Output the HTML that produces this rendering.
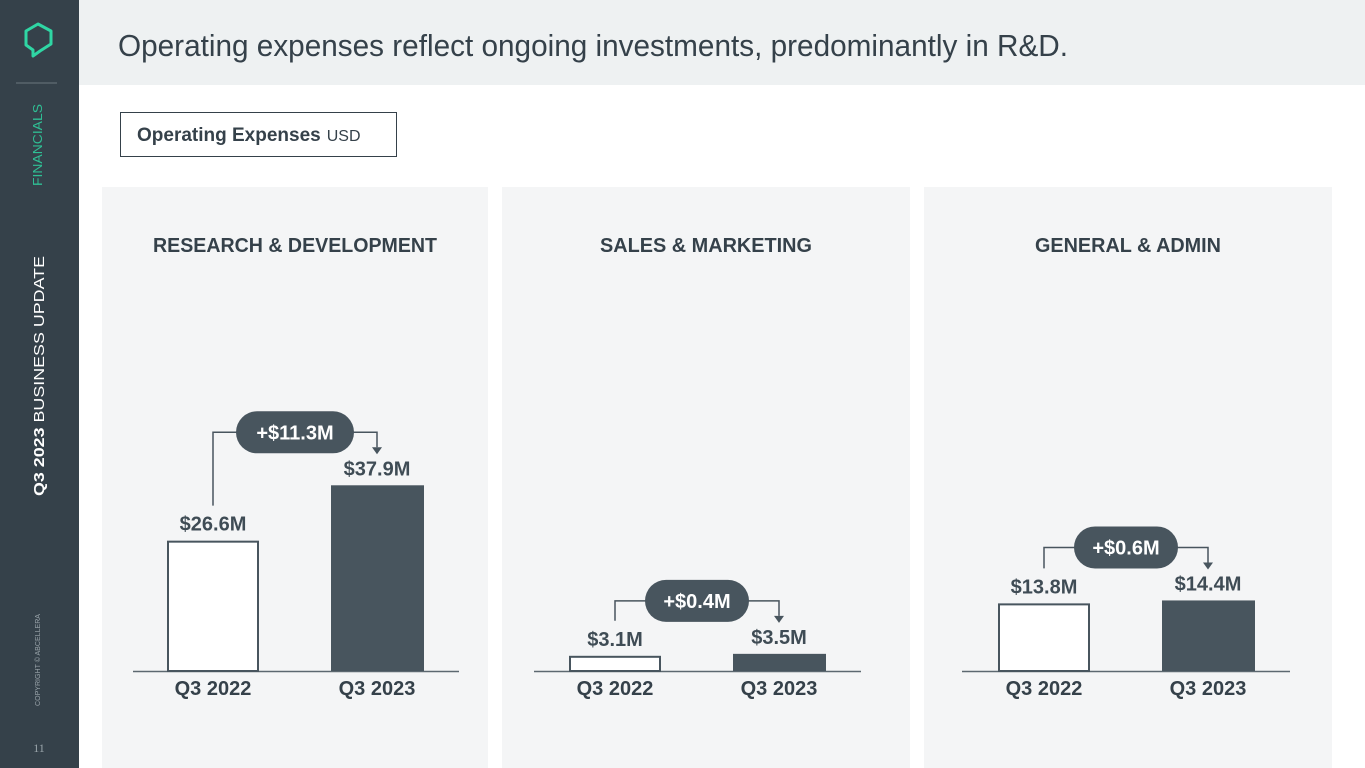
<!DOCTYPE html>
<html><head><meta charset="utf-8"><style>
html,body{margin:0;padding:0;background:#fff;width:1365px;height:768px;overflow:hidden}
svg{display:block;font-family:"Liberation Sans",sans-serif}
</style></head><body>
<svg id="s" width="1365" height="768" viewBox="0 0 1365 768">
<rect x="0" y="0" width="79" height="768" fill="#35414a"/>
<path d="M26 31 L38 24 L51 31 L51 44 L40 51 L33 56 L33 50 L26 45 Z" fill="none" stroke="#2fd6a4" stroke-width="3" stroke-linejoin="round"/>
<line x1="16" y1="83" x2="57" y2="83" stroke="#6b777f" stroke-width="1"/>
<text transform="translate(42,186) rotate(-90)" font-size="13" fill="#2fbf94" textLength="82" lengthAdjust="spacingAndGlyphs">FINANCIALS</text>
<text transform="translate(44,496) rotate(-90)" font-size="15" fill="#ffffff" textLength="240" lengthAdjust="spacingAndGlyphs"><tspan font-weight="bold">Q3 2023</tspan> BUSINESS UPDATE</text>
<text transform="translate(40,706) rotate(-90)" font-size="7" fill="#9aa4aa" textLength="92" lengthAdjust="spacingAndGlyphs">COPYRIGHT © ABCELLERA</text>
<text x="39" y="752" font-size="12" fill="#9aa4aa" text-anchor="middle" font-family="Liberation Serif">11</text>
<rect x="79" y="0" width="1286" height="85" fill="#eef1f2"/>
<text x="118" y="56" font-size="31" fill="#35414a" textLength="950" lengthAdjust="spacingAndGlyphs">Operating expenses reflect ongoing investments, predominantly in R&amp;D.</text>
<rect x="120.5" y="112.5" width="276" height="44" fill="#fff" stroke="#35414a"/>
<text x="137" y="141" font-size="19" fill="#35414a"><tspan font-weight="bold">Operating Expenses</tspan><tspan font-size="16" dx="6">USD</tspan></text>
<g id="charts"></g>
</svg>
<script>
const titles=["RESEARCH & DEVELOPMENT","SALES & MARKETING","GENERAL & ADMIN"];
const categories=["Q3 2022","Q3 2023"];
const q2022=[26.6,3.1,13.8];
const q2023=[37.9,3.5,14.4];
const deltaLabels=["+$11.3M","+$0.4M","+$0.6M"];
const panels=[{x:102,w:386,ax:133,axw:326,b1:167,b2:331,tw:284},{x:502,w:408,ax:534,axw:327,b1:569,b2:733,tw:212},{x:924,w:408,ax:962,axw:328,b1:998,b2:1162,tw:186}];
const baseY=671, pxPerM=4.9, barW=92, dark="#48555e";
const NS="http://www.w3.org/2000/svg";
const g=document.getElementById('charts');
function yScale(v){return baseY-v*pxPerM;}
function mk(tag,attrs,parent){const e=document.createElementNS(NS,tag);for(const k in attrs)e.setAttribute(k,attrs[k]);(parent||g).appendChild(e);return e;}
function fmt(v){return "$"+v.toFixed(1)+"M";}
panels.forEach((p,i)=>{
  const pg=mk('g',{});
  
  
  const bg=mk('rect',{x:p.x,y:187,width:p.w,height:581,fill:"#f4f5f6"},pg);
  
  
  const t=mk('text',{x:p.x+p.w/2,y:252,"font-size":20,"font-weight":"bold",fill:"#35414a","text-anchor":"middle",textLength:p.tw,lengthAdjust:"spacingAndGlyphs"},pg);
  t.textContent=titles[i];
  
  
  const ax=mk('line',{x1:p.ax,y1:baseY+0.5,x2:p.ax+p.axw,y2:baseY+0.5,stroke:"#5c6870","stroke-width":1.5},pg);
  
  
  const vals=[q2022[i],q2023[i]], xs=[p.b1,p.b2];
  vals.forEach((v,j)=>{
    const top=yScale(v);
    const r=mk('rect',j==0?{x:xs[j]+1,y:top+1,width:barW-2,height:baseY-top-1,fill:"#fff",stroke:"#48555e","stroke-width":2}:{x:xs[j],y:top,width:barW+1,height:baseY-top,fill:dark},pg);
    
    
    const l=mk('text',{x:xs[j]+barW/2,y:top-10,"font-size":20,"font-weight":"bold",fill:"#3f4c55","text-anchor":"middle"},pg);
    l.textContent=fmt(v);
    
    
    const c=mk('text',{x:xs[j]+barW/2,y:baseY+24,"font-size":20,"font-weight":"bold",fill:"#35414a","text-anchor":"middle"},pg);
    c.textContent=categories[j];
    
    
  });
  const t1=yScale(vals[0]), t2=yScale(vals[1]);
  const pillY=Math.min(t1,t2)-53;
  const cx1=xs[0]+barW/2, cx2=xs[1]+barW/2, pc=(cx1+cx2)/2;
  const br=mk('path',{d:`M${cx1} ${t1-35} V${pillY} H${cx2} V${t2-38}`,fill:"none",stroke:"#48555e","stroke-width":1.5},pg);
  
  
  const ar=mk('path',{d:`M${cx2-5} ${t2-38} L${cx2+5} ${t2-38} L${cx2} ${t2-31} Z`,fill:"#48555e"},pg);
  
  
  const pw=deltaLabels[i].length*14+20;
  const pill=mk('rect',{x:pc-pw/2,y:pillY-21,width:pw,height:42,rx:21,fill:dark},pg);
  
  
  const dt=mk('text',{x:pc,y:pillY+7,"font-size":20,"font-weight":"bold",fill:"#fff","text-anchor":"middle"},pg);
  dt.textContent=deltaLabels[i];
  
  
});
</script>
</body></html>
